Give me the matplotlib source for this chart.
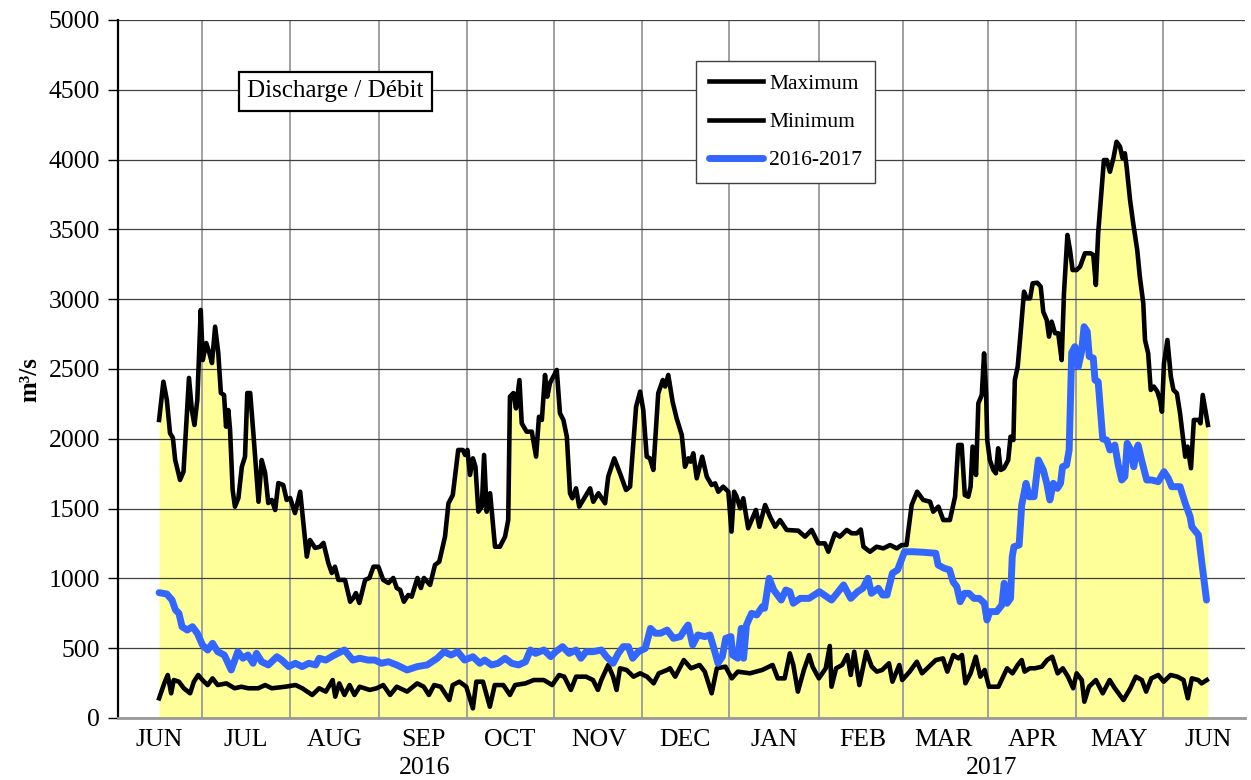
import datetime as dt
import matplotlib
matplotlib.use("Agg")
import matplotlib.pyplot as plt

plt.rcParams['font.family'] = ['Liberation Serif', 'DejaVu Serif']

# ---- data (day index from 1 June 2016) ----
max_days = [0, 1.5, 2.7, 3.8, 4.8, 5.6, 7.3, 8.5, 10.4, 11.4,
            12.3, 13.3, 14.5, 15.2, 16.4, 17.5, 18.4, 19.5, 20.6, 21.5,
            22.6, 23.3, 24.1, 24.7, 25.6, 26.4, 27.6, 28.8, 29.9, 30.7,
            31.7, 32.8, 34.6, 35.7, 36.9, 38.0, 39.2, 40.4, 41.5, 43.2,
            44.4, 45.6, 47.3, 49.1, 51.4, 52.5, 54.3, 56.0, 57.2, 58.9,
            60.1, 61.2, 62.4, 64.7, 66.5, 67.6, 68.5, 69.7, 71.7, 73.2,
            74.6, 76.3, 78.0, 79.8, 81.5, 82.7, 83.9, 85.2, 86.7, 87.9,
            89.9, 91.1, 92.2, 94.3, 96.0, 97.5, 99.5, 100.7, 102.2, 104.1,
            105.7, 106.5, 107.3, 108.2, 109.2, 110.1, 111.1, 112.3, 113.1, 114.0,
            115.2, 116.9, 118.6, 120.4, 121.5, 122.1, 123.3, 124.2, 125.4, 126.2,
            127.9, 129.7, 131.2, 132.2, 133.2, 134.3, 135.1, 136.0, 138.4, 139.5,
            140.7, 141.9, 143.0, 143.8, 145.1, 146.2, 147.6, 150.0, 151.1, 152.9,
            155.2, 156.3, 158.4, 160.4, 162.5, 163.9, 166.0, 167.4, 168.5, 169.7,
            170.8, 172.0, 173.7, 175.3, 176.1, 177.2, 178.7, 180.1, 181.9, 183.0,
            184.2, 185.0, 185.9, 187.1, 189.0, 190.6, 192.3, 193.5, 194.6, 196.3,
            198.1, 199.2, 200.1, 201.0, 202.2, 203.3, 205.0, 206.2, 207.7, 208.9,
            210.9, 212.6, 214.4, 216.1, 218.4, 222.4, 224.8, 227.1, 229.4, 231.7,
            232.9, 235.2, 236.9, 239.3, 241.0, 242.8, 244.2, 245.1, 247.4, 249.7,
            252.0, 254.4, 256.7, 258.4, 260.1, 261.9, 263.8, 265.9, 268.3, 269.4,
            271.2, 272.9, 275.2, 277.0, 278.1, 279.3, 280.4, 281.6, 282.4, 283.1,
            284.3, 285.1, 286.3, 287.1, 287.8, 288.2, 289.1, 290.3, 291.2, 292.0,
            292.9, 294.0, 295.5, 296.3, 297.3, 297.8, 298.8, 299.8, 301.0, 301.9,
            303.1, 304.0, 305.6, 306.8, 307.7, 308.9, 309.7, 310.6, 311.8, 312.9,
            314.1, 314.9, 316.1, 317.0, 317.9, 319.3, 320.5, 322.2, 324.2, 325.1,
            326.0, 326.8, 327.7, 328.8, 329.8, 330.9, 332.1, 333.2, 334.4, 335.3,
            336.1, 336.7, 337.9, 339.0, 340.4, 341.3, 342.5, 343.1, 344.2, 345.1,
            346.2, 347.4, 348.3, 349.0, 349.7, 350.9, 352.1, 353.0, 354.2, 355.3,
            357.1, 357.9, 359.1, 360.1, 361.8, 362.4, 363.2, 365.0]
max_vals = [2135, 2409, 2278, 2041, 2006, 1848, 1705, 1765, 2436, 2206,
            2099, 2278, 2923, 2564, 2686, 2614, 2543, 2803, 2614, 2328,
            2314, 2087, 2206, 2063, 1633, 1514, 1576, 1800, 1872, 2328,
            2328, 2041, 1549, 1848, 1755, 1540, 1562, 1490, 1683, 1669,
            1562, 1576, 1468, 1621, 1156, 1275, 1218, 1227, 1254, 1110,
            1039, 1084, 989, 989, 833, 860, 895, 824, 989, 1003,
            1084, 1084, 989, 967, 1003, 931, 917, 833, 881, 869,
            1003, 931, 1003, 953, 1096, 1120, 1299, 1538, 1597, 1920,
            1920, 1884, 1920, 1741, 1860, 1800, 1478, 1514, 1884, 1478,
            1610, 1227, 1227, 1299, 1418, 2302, 2328, 2218, 2421, 2111,
            2051, 2051, 1872, 2158, 2135, 2457, 2302, 2398, 2493, 2183,
            2135, 2015, 1610, 1574, 1645, 1514, 1562, 1645, 1549, 1610,
            1538, 1729, 1860, 1753, 1633, 1657, 2230, 2338, 2206, 1872,
            1860, 1777, 2326, 2421, 2374, 2457, 2266, 2147, 2027, 1800,
            1860, 1836, 1896, 1717, 1872, 1729, 1669, 1681, 1621, 1657,
            1621, 1335, 1621, 1585, 1502, 1574, 1359, 1418, 1490, 1370,
            1526, 1442, 1370, 1418, 1347, 1342, 1299, 1347, 1251, 1251,
            1191, 1323, 1299, 1347, 1323, 1323, 1350, 1227, 1191, 1227,
            1215, 1239, 1215, 1239, 1239, 1526, 1621, 1562, 1549, 1478,
            1514, 1418, 1418, 1585, 1956, 1956, 1597, 1585, 1657, 1944,
            1741, 2254, 2314, 2612, 2325, 1991, 1848, 1777, 1753, 1932,
            1777, 1789, 1848, 2015, 1991, 2421, 2517, 2756, 3054, 3006,
            3006, 3114, 3118, 3090, 2910, 2851, 2732, 2839, 2756, 2756,
            2564, 3042, 3460, 3352, 3209, 3209, 3233, 3329, 3329, 3317,
            3102, 3472, 3711, 3997, 3997, 3913, 4009, 4128, 4093, 4009,
            4045, 3949, 3711, 3543, 3352, 3161, 2971, 2708, 2612, 2350,
            2374, 2338, 2278, 2194, 2540, 2708, 2445, 2350, 2326, 2183,
            1872, 1944, 1789, 2135, 2135, 2111, 2314, 2099]

min_days = [0, 1.8, 3.0, 4.2, 5.1, 6.9, 8.6, 10.8, 12.1, 13.6,
            15.1, 16.9, 18.6, 20.4, 23.4, 26.3, 28.6, 31.0, 34.5, 36.9,
            39.2, 43.9, 47.5, 49.8, 53.3, 55.7, 58.0, 60.4, 61.3, 62.7,
            64.5, 66.3, 68.0, 69.8, 73.3, 75.7, 78.0, 80.4, 82.7, 86.3,
            89.8, 92.1, 93.9, 95.7, 98.0, 101.0, 102.2, 104.5, 106.9, 109.2,
            110.4, 112.7, 115.1, 116.8, 119.8, 122.1, 123.9, 127.5, 130.4, 133.9,
            136.8, 139.2, 141.0, 143.3, 145.1, 148.6, 151.0, 152.7, 153.9, 156.3,
            158.0, 159.2, 160.4, 162.7, 165.1, 167.4, 169.8, 172.1, 173.9, 176.8,
            177.8, 179.6, 182.6, 185.1, 188.1, 189.9, 192.3, 194.1, 197.1, 199.3,
            201.4, 205.6, 209.9, 213.5, 215.3, 217.7, 219.5, 220.7, 222.3, 224.4,
            226.2, 227.4, 229.6, 232.0, 233.4, 234.0, 235.6, 237.7, 239.5, 240.7,
            241.9, 243.7, 246.1, 248.0, 249.8, 251.6, 254.0, 255.2, 257.6, 258.6,
            261.2, 263.7, 265.5, 267.9, 270.3, 272.8, 274.3, 276.4, 278.2, 279.4,
            280.6, 282.4, 284.2, 285.8, 287.3, 288.8, 290.3, 292.1, 295.1, 297.0,
            298.8, 300.2, 301.2, 303.0, 304.8, 307.2, 309.0, 310.8, 312.7, 314.5,
            316.3, 318.1, 319.3, 321.1, 322.0, 323.6, 326.0, 328.4, 330.8, 332.6,
            335.6, 338.0, 339.9, 342.0, 343.5, 345.3, 347.7, 349.6, 352.0, 354.4,
            356.5, 358.0, 359.4, 361.6, 362.8, 364.6]
min_vals = [141, 248, 308, 177, 272, 260, 213, 177, 260, 308,
            272, 236, 284, 236, 248, 213, 224, 213, 213, 236,
            213, 224, 236, 213, 165, 213, 189, 272, 153, 248,
            165, 236, 165, 224, 201, 213, 236, 165, 224, 189,
            248, 224, 165, 236, 224, 129, 236, 260, 224, 69,
            260, 260, 81, 236, 236, 165, 236, 248, 272, 272,
            236, 308, 296, 201, 296, 296, 272, 201, 272, 380,
            296, 201, 356, 344, 296, 320, 296, 248, 320, 344,
            356, 296, 415, 356, 380, 332, 177, 356, 368, 284,
            332, 320, 344, 380, 284, 284, 463, 380, 189, 344,
            451, 368, 284, 356, 516, 224, 356, 380, 451, 308,
            475, 236, 475, 368, 332, 344, 392, 260, 380, 272,
            332, 403, 320, 368, 415, 427, 332, 451, 427, 451,
            248, 320, 439, 296, 344, 224, 224, 224, 356, 320,
            380, 415, 332, 356, 356, 368, 415, 439, 320, 356,
            296, 213, 320, 272, 117, 224, 272, 177, 272, 213,
            129, 213, 296, 272, 189, 284, 308, 260, 308, 296,
            272, 141, 284, 272, 248, 272]

cur_days = [0, 2.7, 4.5, 5.7, 6.9, 8.0, 9.8, 11.6, 13.3, 15.1,
            16.9, 18.6, 20.4, 22.7, 25.1, 27.4, 29.2, 30.9, 32.7, 33.9,
            35.7, 38.0, 41.0, 42.7, 45.1, 47.4, 49.8, 52.1, 54.5, 55.7,
            58.0, 61.0, 64.5, 67.4, 69.8, 72.7, 75.1, 77.4, 79.8, 82.7,
            86.3, 89.8, 93.3, 96.8, 99.2, 101.6, 103.9, 106.3, 109.2, 111.6,
            113.3, 115.7, 118.0, 120.4, 122.7, 125.1, 127.5, 129.2, 131.0, 133.9,
            136.3, 138.0, 140.4, 142.7, 145.1, 146.8, 148.6, 151.0, 153.9, 155.7,
            158.0, 159.8, 161.5, 163.3, 164.8, 166.8, 169.2, 171.0, 172.7, 174.5,
            176.8, 179.0, 181.4, 183.2, 184.1, 185.7, 187.5, 189.9, 191.7, 192.9,
            194.5, 196.0, 197.2, 199.0, 199.6, 201.4, 202.6, 203.4, 204.4, 206.2,
            208.0, 209.9, 210.7, 212.3, 213.9, 216.5, 218.1, 219.5, 220.7, 223.1,
            226.2, 229.8, 234.0, 235.9, 238.2, 240.7, 243.1, 244.9, 246.7, 247.9,
            250.3, 251.8, 253.3, 255.2, 257.0, 259.4, 262.4, 266.0, 270.3, 271.1,
            273.3, 275.1, 276.3, 277.6, 278.8, 280.3, 281.8, 283.6, 285.4, 287.2,
            288.1, 289.1, 291.5, 293.3, 294.1, 295.1, 296.3, 296.9, 297.5, 299.3,
            300.2, 301.7, 302.8, 304.5, 306.0, 307.7, 308.9, 310.0, 311.2, 312.6,
            313.7, 314.4, 315.8, 316.7, 317.6, 318.7, 319.9, 321.0, 321.9, 323.0,
            323.7, 325.1, 325.7, 326.8, 328.4, 329.8, 330.9, 332.6, 333.8, 335.0,
            336.1, 336.9, 338.1, 339.2, 340.1, 340.7, 341.9, 343.7, 345.4, 347.7,
            349.7, 351.2, 352.4, 355.3, 357.1, 358.8, 359.4, 361.7, 362.9, 364.5]
cur_vals = [898, 888, 845, 774, 750, 654, 630, 654, 607, 523,
            487, 535, 475, 451, 344, 475, 428, 451, 392, 463,
            403, 380, 439, 415, 368, 392, 368, 392, 380, 428,
            415, 451, 487, 415, 428, 415, 415, 392, 403, 380,
            344, 368, 380, 428, 475, 451, 475, 415, 439, 392,
            415, 380, 392, 428, 392, 380, 403, 487, 463, 487,
            439, 475, 511, 463, 487, 428, 475, 475, 487, 439,
            392, 463, 511, 511, 428, 475, 499, 642, 607, 607,
            630, 571, 583, 642, 666, 523, 595, 583, 595, 511,
            392, 439, 571, 583, 451, 428, 642, 428, 666, 750,
            738, 797, 786, 1001, 917, 845, 917, 905, 822, 857,
            857, 905, 845, 893, 953, 857, 905, 929, 1001, 893,
            929, 881, 881, 1037, 1061, 1191, 1191, 1187, 1180, 1096,
            1072, 1061, 976, 941, 833, 893, 893, 857, 857, 822,
            702, 762, 762, 810, 965, 822, 857, 1156, 1227, 1239,
            1526, 1681, 1585, 1585, 1848, 1777, 1681, 1562, 1681, 1645,
            1681, 1800, 1812, 1920, 2617, 2660, 2517, 2623, 2803, 2768,
            2590, 2578, 2421, 2409, 1999, 1991, 1920, 1955, 1812, 1705,
            1729, 1968, 1920, 1800, 1920, 1955, 1848, 1705, 1705, 1693,
            1765, 1717, 1657, 1657, 1538, 1442, 1370, 1311, 1108, 845]

series_labels = ['Maximum', 'Minimum', '2016-2017']
month_labels = ['JUN', 'JUL', 'AUG', 'SEP', 'OCT', 'NOV', 'DEC',
                'JAN', 'FEB', 'MAR', 'APR', 'MAY', 'JUN']
year_labels = ['2016', '2017']
year_label_days = [92.5, 289.8]
y_ticks = list(range(0, 5001, 500))

assert len(max_days) == len(max_vals)
assert len(min_days) == len(min_vals)
assert len(cur_days) == len(cur_vals)

# month positions in day index
start = dt.date(2016, 6, 1)
month_dates = [dt.date(2016 + (5 + i) // 12, (5 + i) % 12 + 1, 1) for i in range(13)]
month_pos = [(d - start).days for d in month_dates]
mid_pos = [(a + b) / 2 for a, b in zip(month_pos[:-1], month_pos[1:])]

# ---- figure ----
W, H = 1251, 780
fig = plt.figure(figsize=(W / 100, H / 100), dpi=100)
ax = fig.add_axes([118 / W, 1 - 718 / H, (1245 - 118) / W, (718 - 20) / H])

ax.fill_between(max_days, 0, max_vals, color='#FFFF99', lw=0, zorder=0.3)
l_max, = ax.plot(max_days, max_vals, color='black', lw=3.3, solid_joinstyle='round', zorder=3)
l_min, = ax.plot(min_days, min_vals, color='black', lw=3.3, solid_joinstyle='round', zorder=3)
l_cur, = ax.plot(cur_days, cur_vals, color='#3366FF', lw=5.0, solid_joinstyle='round',
                 solid_capstyle='round', zorder=4)

ax.set_xlim(-14.3, 377.9)
ax.set_ylim(0, 5000)
ax.set_axisbelow(True)

ax.set_yticks(y_ticks)
ax.set_yticklabels([str(v) for v in y_ticks], fontsize=18.5)
ax.tick_params(axis='y', length=7, width=1, color='black', pad=6)
ax.yaxis.grid(True, color='#404040', lw=0.9)

ax.set_xticks(month_pos)
ax.set_xticklabels(month_labels, fontsize=18.5)
ax.tick_params(axis='x', which='major', length=0, pad=8)
ax.set_xticks(mid_pos, minor=True)
ax.tick_params(axis='x', which='minor', length=0)
ax.xaxis.grid(True, which='minor', color='#a0a0a0', lw=1.4)
ax.xaxis.grid(False, which='major')

for s in ['top', 'right']:
    ax.spines[s].set_visible(False)
ax.spines['left'].set_color('black')
ax.spines['left'].set_linewidth(1.6)
ax.spines['bottom'].set_color('#999999')
ax.spines['bottom'].set_linewidth(2)

for lab, d in zip(year_labels, year_label_days):
    ax.text(d, -0.0716, lab, transform=ax.get_xaxis_transform(), ha='center', va='center',
            fontsize=18.5)

fig.text(30 / W, 1 - 380 / H, 'm³/s', rotation=90, ha='center', va='center',
         fontsize=18, fontweight='bold')

ax.text(0.193, 0.8976, 'Discharge / Débit', transform=ax.transAxes, ha='center', va='center',
        fontsize=18, zorder=6,
        bbox=dict(boxstyle='square,pad=0.35', fc='white', ec='black', lw=1.6))

leg = ax.legend([l_max, l_min, l_cur], series_labels, loc='upper left',
                bbox_to_anchor=(0.5129, 0.9417), borderaxespad=0, fontsize=15.5,
                frameon=True, fancybox=False, framealpha=1, edgecolor='#404040',
                handlelength=2.5, handletextpad=0.3, labelspacing=0.85, borderpad=0.6)
leg.get_frame().set_linewidth(1.0)
leg.set_zorder(6)

fig.savefig('out.png', dpi=100)
